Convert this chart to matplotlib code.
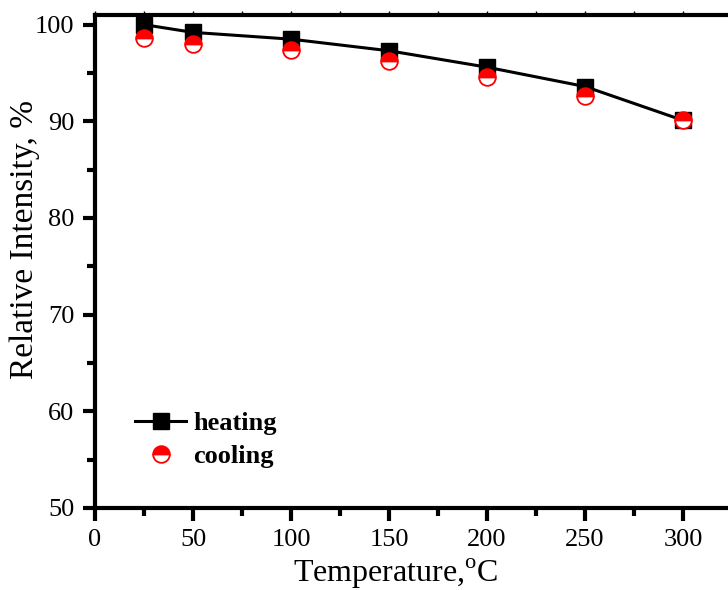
import matplotlib.pyplot as plt
from matplotlib.ticker import MultipleLocator

plt.rcParams['font.family'] = ['Liberation Serif', 'DejaVu Serif']
plt.rcParams['mathtext.fontset'] = 'custom'
plt.rcParams['mathtext.rm'] = 'Liberation Serif'

temps = [25, 50, 100, 150, 200, 250, 300]
heating = [100.0, 99.2, 98.5, 97.3, 95.6, 93.6, 90.1]
cooling = [98.6, 98.0, 97.4, 96.2, 94.6, 92.6, 90.1]

fig = plt.figure(figsize=(7.28, 5.90), dpi=100)
ax = fig.add_axes([0.1305, 0.139, 0.875, 0.8356])

ax.plot(temps, heating, color='black', lw=2.2, marker='s', ms=11.5,
        label='heating', zorder=3)
ax.plot(temps, cooling, ls='none', marker='o', ms=12, fillstyle='top',
        markerfacecolor='red', markerfacecoloralt='white',
        markeredgecolor='red', markeredgewidth=1.3, label='cooling', zorder=4)

ax.set_xlim(0, 325)
ax.set_ylim(50, 101)
ax.xaxis.set_major_locator(MultipleLocator(50))
ax.xaxis.set_minor_locator(MultipleLocator(25))
ax.yaxis.set_major_locator(MultipleLocator(10))
ax.yaxis.set_minor_locator(MultipleLocator(5))

for s in ax.spines.values():
    s.set_linewidth(3)

ax.tick_params(which='major', direction='out', length=9, width=3,
               labelsize=19, pad=6)
ax.tick_params(which='minor', direction='out', length=6, width=3)
ax.tick_params(axis='x', which='both', top=True, labeltop=False)
for t in ax.xaxis.get_major_ticks() + ax.xaxis.get_minor_ticks():
    t.tick2line.set_markersize(3)
    t.tick2line.set_markeredgewidth(1)
    t.tick2line.set_color('gray')

ax.set_xlabel('Temperature,$^{\\mathrm{o}}$C', fontsize=23)
ax.set_ylabel('Relative Intensity, %', fontsize=24)
ax.xaxis.set_label_coords(0.4725, -0.1)
ax.yaxis.set_label_coords(-0.086, 0.544)

ax.legend(loc='lower left', bbox_to_anchor=(0.047, 0.06), frameon=False,
          prop={'weight': 'bold', 'size': 19}, handlelength=1.9,
          handletextpad=0.3, labelspacing=0.35, borderaxespad=0)

fig.savefig('out.png', dpi=100)
